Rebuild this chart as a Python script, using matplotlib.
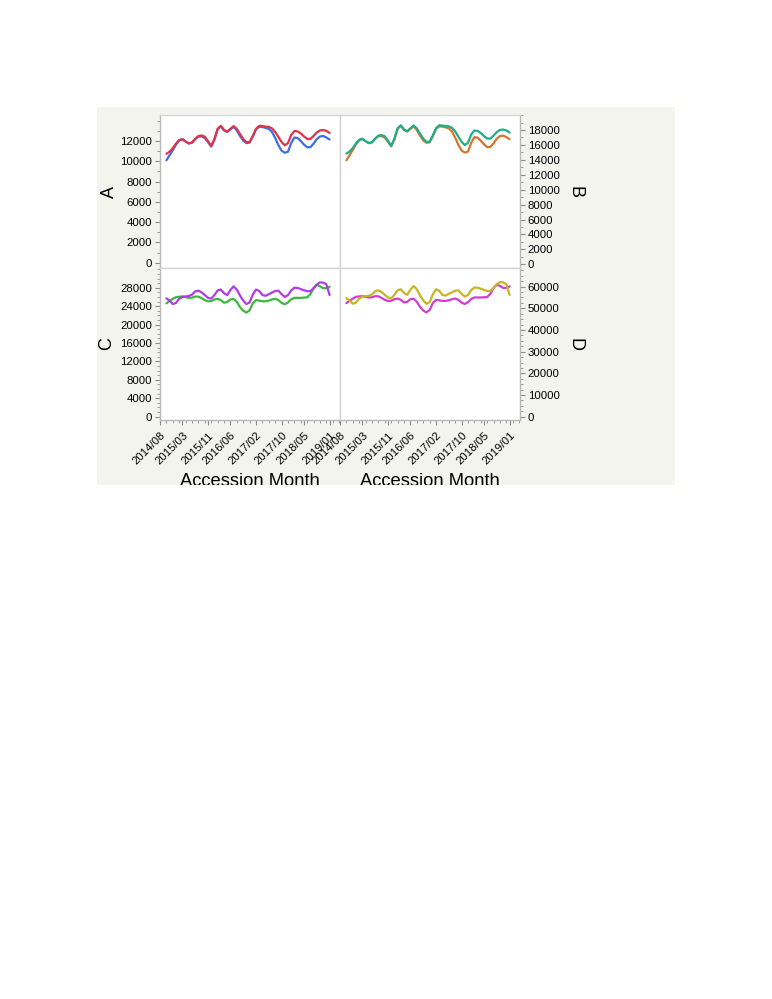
import numpy as np
import matplotlib
matplotlib.use("Agg")
import matplotlib.pyplot as plt
from matplotlib.patches import Rectangle
from matplotlib.ticker import FixedLocator, NullFormatter

plt.rcParams['font.family'] = ['Liberation Sans', 'DejaVu Sans']

# ---------------- data ----------------
# months since 2014/08 for each observation (2014/10 .. 2019/01)
month_index = list(range(2, 54))

x_tick_pos = [0, 7, 15, 22, 30, 38, 45, 53]
x_tick_labels = ["2014/08", "2015/03", "2015/11", "2016/06",
                 "2017/02", "2017/10", "2018/05", "2019/01"]

A_red = [10.75, 10.95, 11.3, 11.75, 12.1, 12.17, 11.95, 11.78, 11.85, 12.2,
         12.5, 12.55, 12.43, 12.0, 11.5, 12.2, 13.2, 13.5, 13.1, 12.93,
         13.2, 13.48, 13.2, 12.7, 12.2, 11.9, 11.9, 12.5, 13.2, 13.5,
         13.48, 13.42, 13.4, 13.25, 12.9, 12.4, 11.9, 11.58, 11.8, 12.6,
         13.0, 12.95, 12.75, 12.45, 12.22, 12.2, 12.5, 12.85, 13.05, 13.09,
         13.0, 12.8]
A_blue = [10.1, 10.6, 11.1, 11.65, 12.05, 12.2, 11.95, 11.75, 11.85, 12.2,
          12.45, 12.45, 12.3, 11.9, 11.45, 12.1, 13.15, 13.45, 13.05, 12.9,
          13.15, 13.4, 13.05, 12.5, 12.05, 11.8, 11.85, 12.45, 13.15, 13.4,
          13.38, 13.3, 13.2, 12.9, 12.3, 11.6, 11.05, 10.85, 10.95, 11.8,
          12.35, 12.3, 12.0, 11.65, 11.38, 11.4, 11.75, 12.2, 12.45, 12.5,
          12.35, 12.15]

B_green = [14.84, 15.11, 15.59, 16.22, 16.70, 16.79, 16.49, 16.26, 16.35, 16.84,
           17.25, 17.32, 17.15, 16.56, 15.87, 16.84, 18.22, 18.63, 18.08, 17.84,
           18.22, 18.60, 18.22, 17.53, 16.84, 16.42, 16.42, 17.25, 18.22, 18.63,
           18.60, 18.52, 18.49, 18.29, 17.80, 17.11, 16.42, 15.98, 16.28, 17.39,
           17.94, 17.87, 17.60, 17.18, 16.86, 16.84, 17.25, 17.73, 18.01, 18.06,
           17.94, 17.66]
B_orange = [13.94, 14.63, 15.32, 16.08, 16.61, 16.84, 16.49, 16.22, 16.35, 16.84,
            17.18, 17.18, 16.97, 16.42, 15.80, 16.70, 18.15, 18.56, 18.01, 17.80,
            18.15, 18.49, 18.01, 17.25, 16.63, 16.28, 16.35, 17.18, 18.15, 18.49,
            18.46, 18.35, 18.22, 17.80, 16.97, 16.01, 15.25, 14.97, 15.11, 16.28,
            17.04, 16.97, 16.56, 16.08, 15.70, 15.73, 16.22, 16.84, 17.18, 17.25,
            17.04, 16.77]

C_purple = [25.7, 25.2, 24.45, 24.7, 25.6, 26.0, 26.1, 26.2, 26.5, 27.2,
            27.35, 27.0, 26.4, 25.8, 25.65, 26.4, 27.4, 27.6, 26.8, 26.4,
            27.5, 28.3, 27.6, 26.3, 25.2, 24.45, 24.8, 26.5, 27.6, 27.3,
            26.4, 26.25, 26.6, 26.95, 27.3, 27.35, 26.6, 26.0, 26.4, 27.4,
            28.0, 27.95, 27.7, 27.45, 27.25, 27.25, 27.9, 28.7, 29.15, 29.1,
            28.7, 26.4]
C_green = [24.6, 25.1, 25.6, 25.95, 26.05, 26.1, 25.95, 25.8, 25.85, 26.1,
           26.05, 25.75, 25.3, 25.05, 25.1, 25.45, 25.6, 25.3, 24.75, 24.9,
           25.45, 25.55, 24.9, 23.8, 23.0, 22.6, 23.1, 24.6, 25.3, 25.2,
           25.05, 25.05, 25.2, 25.45, 25.6, 25.3, 24.7, 24.4, 24.8, 25.5,
           25.8, 25.8, 25.8, 25.85, 25.9, 26.6, 27.9, 28.6, 28.3, 27.9,
           27.9, 28.2]

D_yellow = [54.7, 53.7, 52.1, 52.6, 54.5, 55.4, 55.6, 55.8, 56.4, 57.9,
            58.3, 57.5, 56.2, 55.0, 54.6, 56.2, 58.4, 58.8, 57.1, 56.2,
            58.6, 60.3, 58.8, 56.0, 53.7, 52.1, 52.8, 56.4, 58.8, 58.1,
            56.2, 55.9, 56.7, 57.4, 58.1, 58.3, 56.7, 55.4, 56.2, 58.4,
            59.6, 59.5, 59.0, 58.5, 58.0, 58.0, 59.4, 61.1, 62.1, 62.0,
            61.1, 56.2]
D_magenta = [52.4, 53.5, 54.5, 55.3, 55.5, 55.6, 55.3, 55.0, 55.1, 55.6,
             55.5, 54.8, 53.9, 53.4, 53.5, 54.2, 54.5, 53.9, 52.7, 53.0,
             54.2, 54.4, 53.0, 50.7, 49.0, 48.1, 49.2, 52.4, 53.9, 53.7,
             53.4, 53.4, 53.7, 54.2, 54.5, 53.9, 52.6, 52.0, 52.8, 54.3,
             55.0, 55.0, 55.0, 55.1, 55.2, 56.7, 59.4, 60.9, 60.3, 59.4,
             59.4, 60.1]

A_ticks = [0, 2000, 4000, 6000, 8000, 10000, 12000]
B_ticks = [0, 2000, 4000, 6000, 8000, 10000, 12000, 14000, 16000, 18000]
C_ticks = [0, 4000, 8000, 12000, 16000, 20000, 24000, 28000]
D_ticks = [0, 10000, 20000, 30000, 40000, 50000, 60000]

# ---------------- layout ----------------
W, H = 772, 999
fig = plt.figure(figsize=(W / 100, H / 100), dpi=100)
fig.patch.set_facecolor('white')

def fbox(x0, y0, x1, y1):
    return [x0 / W, 1 - y1 / H, (x1 - x0) / W, (y1 - y0) / H]

bg = Rectangle((97 / W, 1 - 485 / H), (675 - 97) / W, (485 - 107) / H,
               transform=fig.transFigure, facecolor='#f4f4ef',
               edgecolor='none', zorder=-5)
fig.add_artist(bg)

X0, XM, X1 = 160, 340, 520
Y0, YM, Y1 = 115, 268, 420
xlim = (0, 56.25)

panels = {
    'A': dict(box=fbox(X0, Y0, XM, YM), ylim=(-520, 14570), ticks=A_ticks,
              minor=1000, side='left', bottom=False,
              series=[(A_blue, '#3d6fe3', 2), (A_red, '#e0334a', 3)]),
    'B': dict(box=fbox(XM, Y0, X1, YM), ylim=(-500, 20010), ticks=B_ticks,
              minor=1000, side='right', bottom=False,
              series=[(B_orange, '#d4762a', 2), (B_green, '#1fae8c', 3)]),
    'C': dict(box=fbox(X0, YM, XM, Y1), ylim=(-720, 32280), ticks=C_ticks,
              minor=1000, side='left', bottom=True,
              series=[(C_green, '#3cb83c', 2), (C_purple, '#b23be6', 3)]),
    'D': dict(box=fbox(XM, YM, X1, Y1), ylim=(-1520, 68600), ticks=D_ticks,
              minor=2500, side='right', bottom=True,
              series=[(D_magenta, '#d23cd2', 2), (D_yellow, '#c8b424', 3)]),
}

tick_col = '#8c8c8c'
for name, p in panels.items():
    ax = fig.add_axes(p['box'])
    ax.set_facecolor('white')
    for vals, col, z in p['series']:
        ax.plot(month_index, np.array(vals) * 1000, color=col, lw=1.6,
                zorder=z, solid_capstyle='round')
    ax.set_xlim(*xlim)
    ax.set_ylim(*p['ylim'])
    for s in ax.spines.values():
        s.set_color('#d4d4d4')
        s.set_linewidth(1.0)
    ax.yaxis.set_major_locator(FixedLocator(p['ticks']))
    mtop = p['ylim'][1]
    ax.yaxis.set_minor_locator(FixedLocator(
        [v for v in np.arange(0, mtop, p['minor']) if v not in p['ticks']]))
    ax.set_yticklabels([str(t) for t in p['ticks']])
    if p['side'] == 'left':
        ax.yaxis.tick_left()
        ax.spines['left'].set_color('#b8b8b8')
    else:
        ax.yaxis.tick_right()
        ax.spines['right'].set_color('#b8b8b8')
    ax.tick_params(axis='y', which='major', direction='out', length=3.5,
                   width=0.8, color=tick_col, labelsize=8.2, pad=2,
                   labelcolor='black')
    ax.tick_params(axis='y', which='minor', direction='out', length=2,
                   width=0.6, color=tick_col)
    if p['bottom']:
        ax.spines['bottom'].set_color('#b8b8b8')
        ax.xaxis.set_major_locator(FixedLocator(x_tick_pos))
        ax.xaxis.set_minor_locator(FixedLocator(
            [m for m in range(0, 57, 2) if m not in x_tick_pos]))
        ax.set_xticklabels(x_tick_labels, rotation=45, ha='right', va='top',
                           rotation_mode='anchor')
        ax.tick_params(axis='x', which='major', direction='out', length=3.5,
                       width=0.8, color=tick_col, labelsize=8.2, pad=4)
        ax.tick_params(axis='x', which='minor', direction='out', length=2,
                       width=0.6, color=tick_col)
        ax.xaxis.set_minor_formatter(NullFormatter())
    else:
        ax.set_xticks([])

# axis titles
def ftext(x, y, s, **kw):
    fig.text(x / W, 1 - y / H, s, **kw)

ftext(109, 192, 'A', rotation=90, ha='center', va='center', fontsize=13)
ftext(107, 344, 'C', rotation=90, ha='center', va='center', fontsize=13)
ftext(575, 192, 'B', rotation=270, ha='center', va='center', fontsize=13)
ftext(575, 344, 'D', rotation=270, ha='center', va='center', fontsize=13)
ftext(250, 473, 'Accession Month', ha='center', va='top', fontsize=13.2)
ftext(430, 473, 'Accession Month', ha='center', va='top', fontsize=13.2)

cover = Rectangle((0, 0), 1, 1 - 485 / H, transform=fig.transFigure,
                  facecolor='white', edgecolor='none', zorder=20)
fig.add_artist(cover)

fig.savefig('out.png', dpi=100)
